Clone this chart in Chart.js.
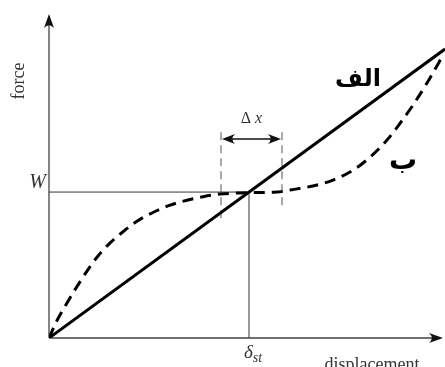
<!DOCTYPE html>
<html>
<head>
<meta charset="utf-8">
<script src="https://cdn.jsdelivr.net/npm/chart.js@4"></script>
<style>
html,body{margin:0;padding:0;background:#fff;}
canvas{display:block;}
</style>
</head>
<body>
<canvas id="c" width="445" height="367"></canvas>
<script>
// ---- data ----
const dispA = [0, 9.9];
const forceA = [0, 9.9];
const dispB = [0, 0.2, 0.45, 0.73, 0.98, 1.23, 1.53, 1.85, 2.2, 2.6, 3.03, 3.45, 3.85, 4.28, 5, 5.7, 6.03, 6.6, 7.1, 7.6, 8.03, 8.45, 8.78, 9.1, 9.5, 9.85];
const forceB = [0, 0.6, 1.2, 1.83, 2.35, 2.82, 3.26, 3.64, 4.0, 4.3, 4.55, 4.72, 4.84, 4.93, 4.98, 5.0, 5.07, 5.21, 5.41, 5.75, 6.2, 6.78, 7.36, 7.98, 8.85, 9.69];
const W = 5;
const deltaSt = 5;
const deltaXRange = [4.3, 5.825];
const deltaXTop = 7.05;
const deltaXBottoms = [3.95, 4.55];
const deltaXArrowY = 6.82;
const xMax = 9.9;
const yMax = 11.1;
const labelA = 'الف';
const labelB = 'ب';

const pts = (xs, ys) => xs.map((x, i) => ({x, y: ys[i]}));

function arrowHead(ctx, x, y, dir, len, half) {
  ctx.save();
  ctx.translate(x, y);
  ctx.rotate(dir);
  ctx.beginPath();
  ctx.moveTo(0, 0);
  ctx.lineTo(-len, -half);
  ctx.quadraticCurveTo(-len * 0.6, 0, -len, half);
  ctx.closePath();
  ctx.fill();
  ctx.restore();
}

const serif = '"Liberation Serif", "DejaVu Serif", serif';

const decor = {
  id: 'decor',
  beforeDatasetsDraw(chart) {
    const {ctx, chartArea: a, scales: {x, y}} = chart;
    ctx.save();
    ctx.strokeStyle = '#444';
    ctx.fillStyle = '#111';
    ctx.lineWidth = 1.3;
    ctx.beginPath();
    ctx.moveTo(x.getPixelForValue(0), y.getPixelForValue(0));
    ctx.lineTo(x.getPixelForValue(0), a.top + 4);
    ctx.moveTo(x.getPixelForValue(0), y.getPixelForValue(0));
    ctx.lineTo(a.right - 5, y.getPixelForValue(0));
    ctx.stroke();
    arrowHead(ctx, x.getPixelForValue(0), a.top, -Math.PI / 2, 14, 5);
    arrowHead(ctx, a.right - 2, y.getPixelForValue(0), 0, 14, 5);
    ctx.lineWidth = 1;
    ctx.strokeStyle = '#333';
    ctx.beginPath();
    ctx.moveTo(x.getPixelForValue(0), y.getPixelForValue(W));
    ctx.lineTo(x.getPixelForValue(deltaSt), y.getPixelForValue(W));
    ctx.lineTo(x.getPixelForValue(deltaSt), y.getPixelForValue(0));
    ctx.stroke();
    ctx.setLineDash([8, 5]);
    ctx.strokeStyle = '#555';
    deltaXRange.forEach((v, i) => {
      ctx.beginPath();
      ctx.moveTo(x.getPixelForValue(v), y.getPixelForValue(deltaXTop));
      ctx.lineTo(x.getPixelForValue(v), y.getPixelForValue(deltaXBottoms[i]));
      ctx.stroke();
    });
    ctx.setLineDash([]);
    const ay = y.getPixelForValue(deltaXArrowY);
    const x1 = x.getPixelForValue(deltaXRange[0]);
    const x2 = x.getPixelForValue(deltaXRange[1]);
    ctx.strokeStyle = '#111';
    ctx.lineWidth = 1.5;
    ctx.beginPath();
    ctx.moveTo(x1 + 6, ay);
    ctx.lineTo(x2 - 6, ay);
    ctx.stroke();
    arrowHead(ctx, x1 + 1, ay, Math.PI, 13, 5);
    arrowHead(ctx, x2 - 1, ay, 0, 13, 5);
    ctx.restore();
  },
  afterDatasetsDraw(chart) {
    const {ctx, scales: {x, y}} = chart;
    ctx.save();
    ctx.fillStyle = '#333';
    ctx.textAlign = 'center';
    ctx.textBaseline = 'middle';
    ctx.save();
    ctx.translate(19, 81);
    ctx.rotate(-Math.PI / 2);
    ctx.font = '18px ' + serif;
    ctx.fillText('force', 0, 0);
    ctx.restore();
    ctx.font = 'italic 20px ' + serif;
    ctx.textAlign = 'right';
    ctx.fillText('W', x.getPixelForValue(0) - 3, y.getPixelForValue(W) - 9);
    ctx.textAlign = 'left';
    ctx.textBaseline = 'alphabetic';
    const dx = x.getPixelForValue(deltaSt) - 5;
    ctx.font = 'italic 19px ' + serif;
    ctx.fillText('δ', dx, 358);
    const dw = ctx.measureText('δ').width;
    ctx.font = 'italic 14px ' + serif;
    ctx.fillText('st', dx + dw, 362);
    ctx.textAlign = 'center';
    ctx.font = '18px ' + serif;
    ctx.fillText('displacement', 372, 370);
    ctx.textAlign = 'left';
    ctx.font = '16px ' + serif;
    const cx = (x.getPixelForValue(deltaXRange[0]) + x.getPixelForValue(deltaXRange[1])) / 2;
    const tw1 = ctx.measureText('Δ ').width;
    ctx.font = 'italic 16px ' + serif;
    const tw2 = ctx.measureText('x').width;
    const sx = cx - (tw1 + tw2) / 2;
    ctx.font = '16px ' + serif;
    ctx.fillText('Δ ', sx, 123);
    ctx.font = 'italic 16px ' + serif;
    ctx.fillText('x', sx + tw1, 123);
    ctx.fillStyle = '#000';
    ctx.textAlign = 'center';
    ctx.textBaseline = 'middle';
    ctx.font = 'bold 24px "DejaVu Sans", sans-serif';
    ctx.fillText(labelA, 358, 80);
    ctx.font = 'bold 28px "DejaVu Sans", sans-serif';
    ctx.fillText(labelB, 403, 162);
    ctx.restore();
  }
};

new Chart(document.getElementById('c'), {
  type: 'scatter',
  data: {
    datasets: [
      {
        data: pts(dispA, forceA),
        showLine: true,
        borderColor: '#000',
        borderWidth: 3,
        pointRadius: 0
      },
      {
        data: pts(dispB, forceB),
        showLine: true,
        borderColor: '#000',
        borderWidth: 3,
        borderDash: [11, 7],
        cubicInterpolationMode: 'monotone',
        pointRadius: 0
      }
    ]
  },
  options: {
    responsive: false,
    animation: false,
    devicePixelRatio: 1,
    layout: {padding: {left: 49, right: 0, top: 14, bottom: 29}},
    plugins: {legend: {display: false}, tooltip: {enabled: false}},
    scales: {
      x: {type: 'linear', min: 0, max: xMax, display: false},
      y: {type: 'linear', min: 0, max: yMax, display: false}
    }
  },
  plugins: [decor]
});
</script>
</body>
</html>
